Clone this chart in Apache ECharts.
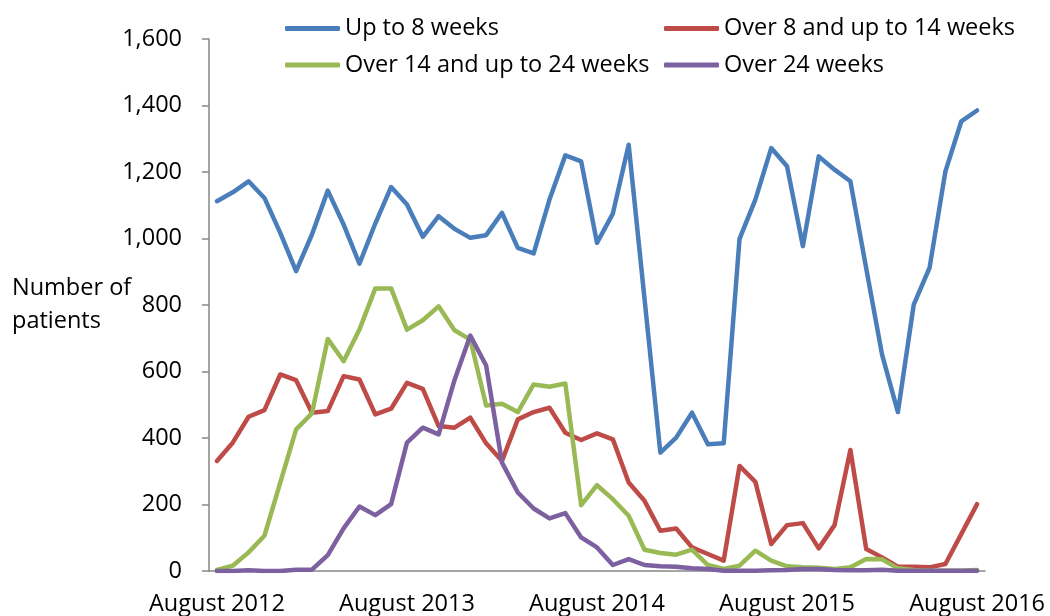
<!DOCTYPE html>
<html>
<head>
<meta charset="utf-8">
<script src="https://cdn.jsdelivr.net/npm/echarts@6/dist/echarts.min.js"></script>
<style>
  html, body { margin: 0; padding: 0; background: #fff; }
  #chart { width: 1050px; height: 616px; }
</style>
</head>
<body>
<div id="chart"></div>
<script>
// months, August 2012 .. August 2016
var months = [
  "August 2012", "September 2012", "October 2012", "November 2012", "December 2012",
  "January 2013", "February 2013", "March 2013", "April 2013", "May 2013", "June 2013", "July 2013",
  "August 2013", "September 2013", "October 2013", "November 2013", "December 2013",
  "January 2014", "February 2014", "March 2014", "April 2014", "May 2014", "June 2014", "July 2014",
  "August 2014", "September 2014", "October 2014", "November 2014", "December 2014",
  "January 2015", "February 2015", "March 2015", "April 2015", "May 2015", "June 2015", "July 2015",
  "August 2015", "September 2015", "October 2015", "November 2015", "December 2015",
  "January 2016", "February 2016", "March 2016", "April 2016", "May 2016", "June 2016", "July 2016",
  "August 2016"
];

var upTo8 = [
  1112, 1139, 1172, 1122, 1017, 902, 1012, 1144, 1042, 924, 1045, 1155,
  1102, 1005, 1067, 1029, 1002, 1010, 1077, 972, 955, 1117, 1250, 1232,
  987, 1075, 1282, 819, 356, 401, 476, 381, 384, 999, 1117, 1272,
  1217, 977, 1247, 1207, 1172, 910, 651, 478, 801, 912, 1202, 1352,
  1385
];
var over8to14 = [
  331, 386, 464, 484, 591, 574, 476, 481, 586, 576, 471, 488,
  566, 548, 436, 431, 461, 384, 331, 456, 478, 491, 416, 394,
  414, 396, 266, 211, 121, 128, 71, 51, 31, 316, 268, 81,
  138, 144, 68, 138, 364, 66, 41, 13, 13, 11, 21, 111,
  201
];
var over14to24 = [
  3, 16, 56, 106, 266, 426, 474, 698, 631, 726, 850, 850,
  726, 754, 796, 724, 696, 498, 503, 478, 561, 554, 564, 198,
  258, 216, 166, 64, 54, 49, 64, 18, 6, 16, 61, 31,
  14, 11, 10, 6, 11, 36, 35, 8, 3, 1, 1, 1,
  3
];
var over24 = [
  0, 0, 2, 0, 0, 4, 4, 48, 128, 194, 168, 201,
  386, 431, 411, 574, 708, 618, 326, 236, 188, 158, 174, 101,
  71, 18, 36, 18, 14, 13, 8, 6, 1, 1, 1, 2,
  3, 6, 6, 3, 2, 2, 4, 1, 1, 1, 1, 1,
  1
];

var names = ["Up to 8 weeks", "Over 8 and up to 14 weeks", "Over 14 and up to 24 weeks", "Over 24 weeks"];
var colors = ["#4a7ebb", "#be4b48", "#98b954", "#7d60a0"];
var yTicks = { min: 0, max: 1600, interval: 200 };

var font = "Open Sans";
var fs = 23.5;
var chart = echarts.init(document.getElementById("chart"));

function lineSeries(i, data) {
  return {
    name: names[i],
    type: "line",
    data: data,
    showSymbol: false,
    symbol: "none",
    lineStyle: { color: colors[i], width: 4.5, join: "round", cap: "round" },
    itemStyle: { color: colors[i] },
    animation: false
  };
}

var legendText = { color: "#000", fontSize: fs, fontFamily: font };

function legendCol(items, left) {
  return {
    data: items,
    orient: "vertical",
    left: left,
    top: 16.5,
    padding: 0,
    itemWidth: 55,
    itemHeight: 5,
    itemGap: 12.5,
    icon: "roundRect",
    textStyle: legendText
  };
}

var option = {
  textStyle: { fontFamily: font },
  grid: { left: 209, right: 65, top: 39, bottom: 44 },
  legend: [
    legendCol([names[0], names[2]], 285),
    legendCol([names[1], names[3]], 664)
  ],
  xAxis: {
    type: "category",
    data: months,
    boundaryGap: true,
    axisLine: { lineStyle: { color: "#868686", width: 1.5 } },
    axisTick: { interval: 11, length: 7, lineStyle: { color: "#868686", width: 1.5 } },
    axisLabel: {
      interval: 11,
      color: "#000",
      fontSize: fs,
      margin: 21,
      fontFamily: font
    }
  },
  yAxis: {
    type: "value",
    min: yTicks.min,
    max: yTicks.max,
    interval: yTicks.interval,
    name: "Number of\npatients",
    nameLocation: "middle",
    nameRotate: 0,
    nameGap: 197,
    nameMoveOverlap: false,
    nameTextStyle: { color: "#000", fontSize: fs, align: "left", lineHeight: 33, fontFamily: font },
    splitLine: { show: false },
    axisLine: { show: true, lineStyle: { color: "#868686", width: 1.5 } },
    axisTick: { show: true, length: 7, lineStyle: { color: "#868686", width: 1.5 } },
    axisLabel: {
      color: "#000",
      fontSize: fs,
      margin: 27,
      fontFamily: font,
      formatter: function (v) { return v.toLocaleString("en-US"); }
    }
  },
  series: [
    lineSeries(0, upTo8),
    lineSeries(1, over8to14),
    lineSeries(2, over14to24),
    lineSeries(3, over24)
  ]
};

chart.setOption(option);
</script>
</body>
</html>
